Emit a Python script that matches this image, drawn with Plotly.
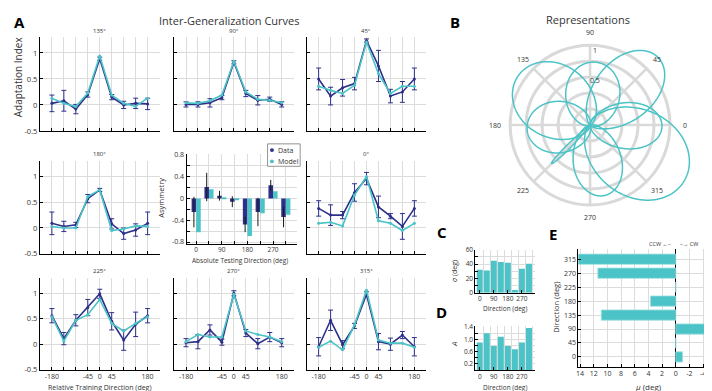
import numpy as np
import plotly.graph_objects as go

W, H = 712, 391
def px(x): return x / W
def py(y): return 1 - y / H

DARK = '#2D3089'
CYAN = '#4BC3C7'
GRID = '#dcdcdc'
RING = '#d9d9d9'
TXT = '#333333'
FONT = 'Open Sans'

# ---------------- Panel A data ----------------
rel_dirs = [-180, -135, -90, -45, 0, 45, 90, 135, 180]
rel_tick_text = ['-180', '', '', '-45', '0', '45', '', '', '180']

data_135 = [0.03, 0.08, -0.08, 0.20, 0.89, 0.15, 0.00, 0.03, 0.02]
err_135 = [0.16, 0.20, 0.09, 0.05, 0.03, 0.05, 0.07, 0.10, 0.11]
model_135 = [0.13, 0.03, -0.03, 0.23, 0.94, 0.19, 0.03, -0.03, 0.13]

data_90 = [0.01, 0.01, 0.04, 0.14, 0.82, 0.22, 0.09, 0.11, 0.01]
err_90 = [0.05, 0.05, 0.08, 0.04, 0.03, 0.06, 0.09, 0.04, 0.05]
model_90 = [0.04, 0.03, 0.08, 0.19, 0.84, 0.25, 0.11, 0.09, 0.04]

data_45 = [0.50, 0.17, 0.33, 0.41, 1.24, 0.75, 0.17, 0.25, 0.50]
err_45 = [0.21, 0.17, 0.16, 0.12, 0.03, 0.30, 0.13, 0.20, 0.21]
model_45 = [0.36, 0.28, 0.22, 0.38, 1.21, 0.60, 0.22, 0.36, 0.36]

data_180 = [0.09, 0.03, 0.06, 0.57, 0.74, 0.08, -0.11, -0.04, 0.09]
err_180 = [0.22, 0.10, 0.05, 0.08, 0.03, 0.10, 0.11, 0.12, 0.22]
model_180 = [0.03, 0.00, 0.00, 0.61, 0.74, -0.05, -0.02, 0.04, 0.03]

data_0 = [0.38, 0.25, 0.25, 0.69, 0.96, 0.41, 0.23, 0.03, 0.38]
err_0 = [0.15, 0.20, 0.07, 0.17, 0.12, 0.21, 0.05, 0.25, 0.15]
model_0 = [0.09, 0.11, 0.04, 0.64, 1.00, 0.14, 0.09, -0.05, 0.09]

data_225 = [0.56, 0.11, 0.47, 0.72, 0.99, 0.45, 0.08, 0.39, 0.56]
err_225 = [0.14, 0.12, 0.11, 0.16, 0.09, 0.17, 0.20, 0.24, 0.14]
model_225 = [0.54, 0.06, 0.47, 0.58, 0.88, 0.41, 0.26, 0.41, 0.54]

data_270 = [0.03, 0.05, 0.28, 0.04, 1.00, 0.22, 0.01, 0.14, 0.03]
err_270 = [0.08, 0.14, 0.10, 0.06, 0.05, 0.07, 0.10, 0.09, 0.08]
model_270 = [0.05, 0.19, 0.14, 0.14, 0.98, 0.26, 0.19, 0.14, 0.05]

data_315 = [-0.05, 0.47, -0.01, 0.36, 0.98, 0.05, 0.00, 0.18, -0.05]
err_315 = [0.18, 0.20, 0.08, 0.05, 0.05, 0.16, 0.12, 0.07, 0.18]
model_315 = [-0.06, 0.06, -0.11, 0.38, 1.06, 0.08, 0.02, 0.02, -0.06]

# asymmetry inset
abs_dirs = [0, 45, 90, 135, 180, 225, 270, 315]
abs_tick_text = ['0', '', '90', '', '180', '', '270', '']
asym_data = [-0.25, 0.21, 0.05, -0.06, -0.48, -0.25, 0.24, -0.34]
asym_err = [0.28, 0.26, 0.09, 0.10, 0.14, 0.26, 0.10, 0.19]
asym_model = [-0.62, 0.17, 0.02, -0.03, -0.69, -0.27, 0.13, -0.30]

# Panels C, D, E (representation parameters)
sigma_deg = [32, 31, 44.5, 43, 42, 3.6, 33.6, 40.5]
amp_A = [0.90, 1.20, 0.79, 1.09, 0.79, 0.68, 0.90, 1.37]
mu_deg = [-1.0, 0.0, -5.0, 10.9, 3.7, 0.0, 11.4, 14.3]

polar_labels = ['0', '45', '90', '135', '180', '225', '270', '315']
polar_rings = [0.2, 0.4, 0.6, 0.8, 1.0]

# ---------------- layout geometry ----------------
cols = [(30, 150), (164.5, 284.5), (297.5, 417.5)]
rows = [(25, 121), (152, 247), (272, 366)]

panels = [
    ('135°', data_135, err_135, model_135, 0, 0),
    ('90°', data_90, err_90, model_90, 0, 1),
    ('45°', data_45, err_45, model_45, 0, 2),
    ('180°', data_180, err_180, model_180, 1, 0),
    ('0°', data_0, err_0, model_0, 1, 2),
    ('225°', data_225, err_225, model_225, 2, 0),
    ('270°', data_270, err_270, model_270, 2, 1),
    ('315°', data_315, err_315, model_315, 2, 2),
]

fig = go.Figure()
layout = {}
annotations = []
shapes = []

def ann(text, x, y, size=7, rot=0, xanchor='center', color=TXT):
    annotations.append(dict(text=text, x=px(x), y=py(y), xref='paper', yref='paper',
                            showarrow=False, textangle=rot, xanchor=xanchor, yanchor='middle',
                            font=dict(size=size, color=color, family=FONT)))

def ax(**kw):
    d = dict(showline=True, linecolor='black', linewidth=1, ticks='inside', ticklen=3,
             tickcolor='black', tickwidth=1, showgrid=True, gridcolor=GRID, gridwidth=1,
             zeroline=False, fixedrange=True, tickangle=0, ticklabeloverflow='allow',
             tickfont=dict(size=7.5, color=TXT, family=FONT))
    d.update(kw)
    return d

def key(n, a):
    return a + ('' if n == 1 else str(n))

for i, (title, dat, err, mod, r, c) in enumerate(panels):
    n = i + 1
    x0, x1 = cols[c]
    y0, y1 = rows[r]
    layout[key(n, 'xaxis')] = ax(domain=[px(x0), px(x1)], range=[-225, 225],
                                 tickmode='array', tickvals=rel_dirs,
                                 ticktext=rel_tick_text if r == 2 else [''] * 9,
                                 anchor=key(n, 'y'), tickfont=dict(size=7, color=TXT, family=FONT))
    layout[key(n, 'yaxis')] = ax(domain=[py(y1), py(y0)], range=[-0.5, 1.3],
                                 tickmode='array', tickvals=[-0.5, 0, 0.5, 1],
                                 ticktext=['-0.5', '0', '0.5', '1'] if c == 0 else [''] * 4,
                                 anchor=key(n, 'x'))
    xa, ya = key(n, 'x'), key(n, 'y')
    fig.add_trace(go.Scatter(x=rel_dirs, y=dat, mode='lines+markers', xaxis=xa, yaxis=ya,
                             line=dict(color=DARK, width=1.6), marker=dict(size=3, color=DARK),
                             error_y=dict(type='data', array=err, color=DARK, thickness=1, width=2.5)))
    fig.add_trace(go.Scatter(x=rel_dirs, y=mod, mode='lines+markers', xaxis=xa, yaxis=ya,
                             line=dict(color=CYAN, width=1.6), marker=dict(size=3, color=CYAN)))
    ann(title, (x0 + x1) / 2, y0 - 7, size=6)

small_font = dict(size=6.5, color=TXT, family=FONT)

# asymmetry panel (axis 9)
layout['xaxis9'] = ax(domain=[px(177), px(288)], range=[-34, 355], tickmode='array',
                      tickvals=abs_dirs, ticktext=abs_tick_text, anchor='y9', tickfont=small_font)
layout['yaxis9'] = ax(domain=[py(236.7), py(145)], range=[-0.83, 0.81], tickmode='array',
                      tickvals=[-0.8, -0.6, -0.4, -0.2, 0, 0.2, 0.4, 0.6, 0.8],
                      ticktext=['-0.8', '', '-0.4', '', '0', '', '0.4', '', '0.8'], anchor='x9',
                      tickfont=dict(size=7, color=TXT, family=FONT))
fig.add_trace(go.Bar(x=abs_dirs, y=asym_data, width=16, offset=-16, marker=dict(color=DARK, line=dict(width=0)),
                     error_y=dict(type='data', array=asym_err, color='#1a1a1a', thickness=1, width=0),
                     xaxis='x9', yaxis='y9'))
fig.add_trace(go.Bar(x=abs_dirs, y=asym_model, width=16, offset=0, marker=dict(color=CYAN, line=dict(width=0)),
                     xaxis='x9', yaxis='y9'))

gap_vals = [22.5, 67.5, 112.5, 157.5, 202.5, 247.5, 292.5, 337.5]

# C: sigma (axis 10)
layout['xaxis10'] = ax(domain=[px(466.7), px(526.7)], range=[-28, 355], tickmode='array',
                       tickvals=[0, 90, 180, 270], ticktext=['0', '90', '180', '270'], anchor='y10',
                       showgrid=False, minor=dict(tickvals=gap_vals, showgrid=True, gridcolor=GRID, ticks=''),
                       tickfont=small_font)
layout['yaxis10'] = ax(domain=[py(287), py(243)], range=[0, 60], tickmode='array',
                       tickvals=[0, 10, 20, 30, 40, 50, 60], ticktext=['0', '', '20', '', '40', '', '60'],
                       anchor='x10', tickfont=small_font)
fig.add_trace(go.Bar(x=abs_dirs, y=sigma_deg, width=38, marker=dict(color=CYAN, line=dict(width=0)),
                     xaxis='x10', yaxis='y10'))

# D: amplitude (axis 11)
layout['xaxis11'] = ax(domain=[px(466.7), px(526.7)], range=[-28, 355], tickmode='array',
                       tickvals=[0, 90, 180, 270], ticktext=['0', '90', '180', '270'], anchor='y11',
                       showgrid=False, minor=dict(tickvals=gap_vals, showgrid=True, gridcolor=GRID, ticks=''),
                       tickfont=small_font)
layout['yaxis11'] = ax(domain=[py(366.5), py(321.5)], range=[0, 1.43], tickmode='array',
                       tickvals=[0.2, 0.4, 0.6, 0.8, 1.0, 1.2, 1.4],
                       ticktext=['0.2', '', '0.6', '', '1.0', '', '1.4'],
                       anchor='x11', tickfont=small_font)
fig.add_trace(go.Bar(x=abs_dirs, y=amp_A, width=38, marker=dict(color=CYAN, line=dict(width=0)),
                     xaxis='x11', yaxis='y11'))

# E: mu (axis 12)
layout['xaxis12'] = ax(domain=[px(570), px(706)], range=[14.25, -5.6], tickmode='array',
                       tickvals=[14, 12, 10, 8, 6, 4, 2, 0, -2, -4],
                       ticktext=['14', '12', '10', '8', '6', '4', '2', '0', '-2', '-4'],
                       anchor='y12', zeroline=True, zerolinecolor='black', zerolinewidth=1.2,
                       tickfont=dict(size=7, color=TXT, family=FONT))
layout['yaxis12'] = ax(domain=[py(363), py(241.7)], range=[-31.5, 349.5], tickmode='array',
                       tickvals=abs_dirs, ticktext=[str(d) for d in abs_dirs], anchor='x12',
                       tickfont=dict(size=7, color=TXT, family=FONT))
fig.add_trace(go.Bar(y=abs_dirs, x=mu_deg, orientation='h', width=33,
                     marker=dict(color=CYAN, line=dict(color='#9fdfe1', width=0.8)),
                     xaxis='x12', yaxis='y12'))

# B: polar representations
for d in abs_dirs:  # spokes of the polar grid, up to the outer ring
    fig.add_trace(go.Scatterpolar(r=[0, polar_rings[-1]], theta=[d, d], mode='lines',
                                  line=dict(color=RING, width=2.5), hoverinfo='skip'))
for d, A, s, m in zip(abs_dirs, amp_A, sigma_deg, mu_deg):
    centre = d + m
    delta = np.arange(-180, 180.01, 0.25)
    r = A * np.exp(-delta ** 2 / (2 * s ** 2))
    fig.add_trace(go.Scatterpolar(r=r, theta=centre + delta, mode='lines',
                                  line=dict(color=CYAN, width=1.5)))

pcx, pcy, pr1 = 581.7, 115, 82      # centre and radius (px) of the r=1 ring
rmax = 1.4
prad = pr1 * rmax
layout['polar'] = dict(
    domain=dict(x=[px(pcx - prad), px(pcx + prad)], y=[py(pcy + prad), min(1, py(pcy - prad))]),
    bgcolor='rgba(0,0,0,0)',
    radialaxis=dict(range=[0, rmax], tickmode='array', tickvals=polar_rings,
                    showticklabels=False, ticks='', showline=False,
                    gridcolor=RING, gridwidth=2.5),
    angularaxis=dict(rotation=0, direction='counterclockwise', tickmode='array',
                     tickvals=abs_dirs, ticks='', showticklabels=False,
                     showline=False, showgrid=False),
)
for d, lab in zip(abs_dirs, polar_labels):
    a = np.deg2rad(d)
    ann(lab, pcx + 95 * np.cos(a), pcy - 95 * np.sin(a), size=7)
ann('1', 587, 38, size=7)
ann('0.5', 587, 69, size=7)

# ---------------- text ----------------
ann('<b>A</b>', 10, 9, size=15, color='black')
ann('<b>B</b>', 446, 9, size=15, color='black')
ann('<b>C</b>', 433, 225, size=15, color='black')
ann('<b>D</b>', 433, 307, size=15, color='black')
ann('<b>E</b>', 545, 227, size=15, color='black')
ann('Inter-Generalization Curves', 220, 8, size=11)
ann('Representations', 580, 7, size=11)
ann('Adaptation Index', 8, 65, size=10, rot=-90)
ann('Relative Training Direction (deg)', 90, 384.3, size=7)
ann('Asymmetry', 152, 190, size=7.5, rot=-90)
ann('Absolute Testing Direction (deg)', 231, 254, size=6.5)
ann('<i>σ</i> (deg)', 445, 265, size=7, rot=-90)
ann('<i>A</i>', 445, 340, size=8, rot=-90)
ann('Direction (deg)', 496, 303.5, size=6.5)
ann('Direction (deg)', 496, 384, size=6.5)
ann('Direction (deg)', 548, 302, size=7.5, rot=-90)
ann('<i>μ</i> (deg)', 640, 383, size=8)
ann('CCW ←–', 665, 237, size=5.5, xanchor='right')
ann('–→ CW', 670, 237, size=5.5, xanchor='left')

# legend of inset
shapes.append(dict(type='rect', xref='paper', yref='paper', x0=px(258.3), x1=px(291), y0=py(157.3), y1=py(134.3),
                   line=dict(color='#777777', width=0.8), fillcolor='white'))
for yy, col in [(140.7, DARK), (152.3, CYAN)]:
    shapes.append(dict(type='circle', xref='paper', yref='paper', x0=px(260.7), x1=px(264.7),
                       y0=py(yy + 2), y1=py(yy - 2), line=dict(width=0), fillcolor=col))
ann('Data', 267, 140.7, size=7, xanchor='left')
ann('Model', 267, 152.3, size=7, xanchor='left')

fig.update_layout(**layout)
fig.update_layout(width=W, height=H, autosize=False, margin=dict(l=0, r=0, t=0, b=0),
                  paper_bgcolor='white', plot_bgcolor='white', showlegend=False,
                  barmode='overlay', annotations=annotations, shapes=shapes,
                  font=dict(family=FONT, color=TXT))
fig.write_html('out.html')
